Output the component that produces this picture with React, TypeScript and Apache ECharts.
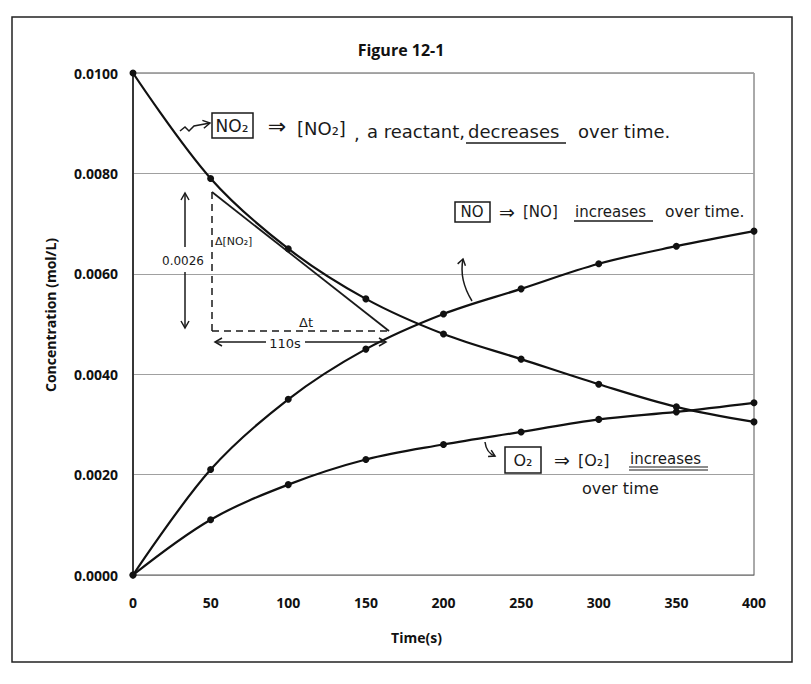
import React, { useEffect, useRef } from "react";
import * as echarts from "echarts";

const times = [0, 50, 100, 150, 200, 250, 300, 350, 400];
const no2 = [0.01, 0.0079, 0.0065, 0.0055, 0.0048, 0.0043, 0.0038, 0.00335, 0.00305];
const no = [0, 0.0021, 0.0035, 0.0045, 0.0052, 0.0057, 0.0062, 0.00655, 0.00685];
const o2 = [0, 0.0011, 0.0018, 0.0023, 0.0026, 0.00285, 0.0031, 0.00325, 0.00343];
const seriesNames = ["NO2", "NO", "O2"];

const HAND = "'DejaVu Sans', sans-serif";
const INK = "#1a1a1a";
const FONT = "'Open Sans', 'Noto Sans', sans-serif";

function txt(x: number, y: number, text: string, size: number, align = "left") {
  return {
    type: "text",
    x,
    y,
    z: 100,
    style: { text, fontSize: size, fontFamily: HAND, fill: INK, align, verticalAlign: "middle" },
  };
}
function ln(x1: number, y1: number, x2: number, y2: number, dash = false, w = 1.5) {
  return {
    type: "line",
    z: 100,
    shape: { x1, y1, x2, y2 },
    style: { stroke: INK, lineWidth: w, lineDash: dash ? [7, 5] : null },
  };
}
function box(x: number, y: number, w: number, h: number) {
  return {
    type: "rect",
    z: 100,
    shape: { x, y, width: w, height: h },
    style: { fill: "none", stroke: INK, lineWidth: 1.5 },
  };
}
function head(x: number, y: number, dx: number, dy: number, len = 7, wid = 4) {
  const L = Math.hypot(dx, dy);
  const ux = dx / L, uy = dy / L;
  const px = -uy, py = ux;
  return {
    type: "polyline",
    z: 100,
    shape: {
      points: [
        [x - ux * len + px * wid, y - uy * len + py * wid],
        [x, y],
        [x - ux * len - px * wid, y - uy * len - py * wid],
      ],
    },
    style: { stroke: INK, lineWidth: 1.5, fill: "none" },
  };
}

export default function App() {
  const ref = useRef<HTMLDivElement>(null);
  useEffect(() => {
    if (!ref.current) return;
    const chart = echarts.init(ref.current, null, { renderer: "svg" });
    const mk = (arr: number[]) => times.map((t, i) => [t, arr[i]]);
    const graphics: any[] = [
      // outer frame
      {
        type: "rect",
        z: 0,
        shape: { x: 12, y: 17, width: 780, height: 645 },
        style: { fill: "none", stroke: "#222", lineWidth: 1.5 },
      },
      // annotation 1
      {
        type: "polyline",
        z: 100,
        shape: { points: [[180, 131], [185, 127], [189, 131], [194, 126], [210, 123]] },
        style: { stroke: INK, lineWidth: 1.5, fill: "none" },
      },
      head(210, 123, 16, -3),
      box(212, 113, 41, 25),
      txt(232, 126, "NO₂", 17, "center"),
      txt(277, 126, "⇒", 22, "center"),
      txt(297, 128, "[NO₂]", 18),
      txt(354, 133, ",", 18),
      txt(367, 131, "a reactant,", 18),
      txt(468, 131, "decreases", 18),
      ln(466, 143, 566, 143),
      txt(578, 131, "over time.", 18),
      // annotation 2
      box(455, 202, 35, 20),
      txt(472, 212, "NO", 15, "center"),
      txt(507, 212, "⇒", 19, "center"),
      txt(523, 212, "[NO]", 15),
      txt(575, 212, "increases", 15),
      ln(574, 221, 653, 221, false, 1.3),
      txt(665, 212, "over time.", 15.5),
      {
        type: "bezierCurve",
        z: 100,
        shape: { x1: 472, y1: 301, cpx1: 464, cpy1: 288, cpx2: 460, cpy2: 274, x2: 463, y2: 259 },
        style: { stroke: INK, lineWidth: 1.5, fill: "none" },
      },
      head(463, 259, 1, -4, 6, 4),
      // annotation 3
      {
        type: "bezierCurve",
        z: 100,
        shape: { x1: 485, y1: 442, cpx1: 486, cpy1: 450, cpx2: 489, cpy2: 454, x2: 495, y2: 456 },
        style: { stroke: INK, lineWidth: 1.5, fill: "none" },
      },
      head(495, 456, 4, 2, 6, 3.5),
      box(505, 447, 36, 26),
      txt(523, 460, "O₂", 16, "center"),
      txt(562, 460, "⇒", 19, "center"),
      txt(578, 460, "[O₂]", 16),
      txt(630, 459, "increases", 15),
      ln(629, 467, 708, 467, false, 1.2),
      ln(629, 470, 708, 470, false, 1.2),
      txt(582, 488, "over time", 16),
      // tangent triangle
      ln(212, 192, 389, 331, false, 1.8),
      ln(212, 192, 212, 331, true),
      ln(212, 331, 389, 331, true),
      txt(215, 241, "Δ[NO₂]", 11),
      txt(299, 322, "Δt", 13),
      // vertical double arrow with value
      ln(185, 193, 185, 247),
      head(185, 193, 0, -1, 7, 4),
      ln(185, 272, 185, 328),
      head(185, 328, 0, 1, 7, 4),
      txt(183, 261, "0.0026", 12, "center"),
      // horizontal double arrow
      ln(215, 342, 266, 342),
      head(215, 342, -1, 0, 7, 4),
      txt(285, 343, "110s", 13, "center"),
      ln(305, 342, 386, 342),
      head(386, 342, 1, 0, 7, 4),
    ];

    const lineSeries = (name: string, arr: number[]) => ({
      name,
      type: "line",
      data: mk(arr),
      smooth: 0.35,
      symbol: "circle",
      symbolSize: 7,
      lineStyle: { color: "#111", width: 2.2 },
      itemStyle: { color: "#111" },
      z: 5,
    });

    chart.setOption({
      animation: false,
      backgroundColor: "#ffffff",
      title: {
        text: "Figure 12-1",
        left: 396,
        top: 37,
        textAlign: "center",
        textStyle: { fontFamily: FONT, fontWeight: "bold", fontSize: 16, color: "#111" },
      },
      grid: {
        left: 133,
        right: 57,
        top: 73,
        bottom: 109,
        show: true,
        borderColor: "#555",
        borderWidth: 1,
      },
      xAxis: {
        type: "value",
        min: 0,
        max: 400,
        interval: 50,
        name: "Time(s)",
        nameLocation: "middle",
        nameGap: 55,
        nameTextStyle: {
          fontFamily: FONT,
          fontWeight: "bold",
          fontSize: 14,
          color: "#111",
          padding: [0, 54, 0, 0],
        },
        axisLine: { show: true, lineStyle: { color: "#888" } },
        axisTick: { show: false },
        splitLine: { show: false },
        axisLabel: { fontFamily: FONT, fontWeight: "bold", fontSize: 14, color: "#111", margin: 20 },
      },
      yAxis: {
        type: "value",
        min: 0,
        max: 0.01,
        interval: 0.002,
        name: "Concentration (mol/L)",
        nameLocation: "middle",
        nameGap: 76,
        nameTextStyle: {
          fontFamily: FONT,
          fontWeight: "bold",
          fontSize: 14,
          color: "#111",
          padding: [0, 0, 0, 18],
        },
        axisLine: { show: true, lineStyle: { color: "#111", width: 1.5 } },
        axisTick: { show: false },
        splitLine: { show: true, lineStyle: { color: "#a0a0a0", width: 1 } },
        axisLabel: {
          fontFamily: FONT,
          fontWeight: "bold",
          fontSize: 14,
          color: "#111",
          margin: 15,
          formatter: (v: number) => v.toFixed(4),
        },
      },
      series: [
        lineSeries(seriesNames[0], no2),
        lineSeries(seriesNames[1], no),
        lineSeries(seriesNames[2], o2),
      ],
      graphic: graphics,
    });
    return () => chart.dispose();
  }, []);
  return (
    <div
      ref={ref}
      style={{ position: "absolute", left: 0, top: 0, width: 811, height: 684, background: "#fff" }}
    />
  );
}
